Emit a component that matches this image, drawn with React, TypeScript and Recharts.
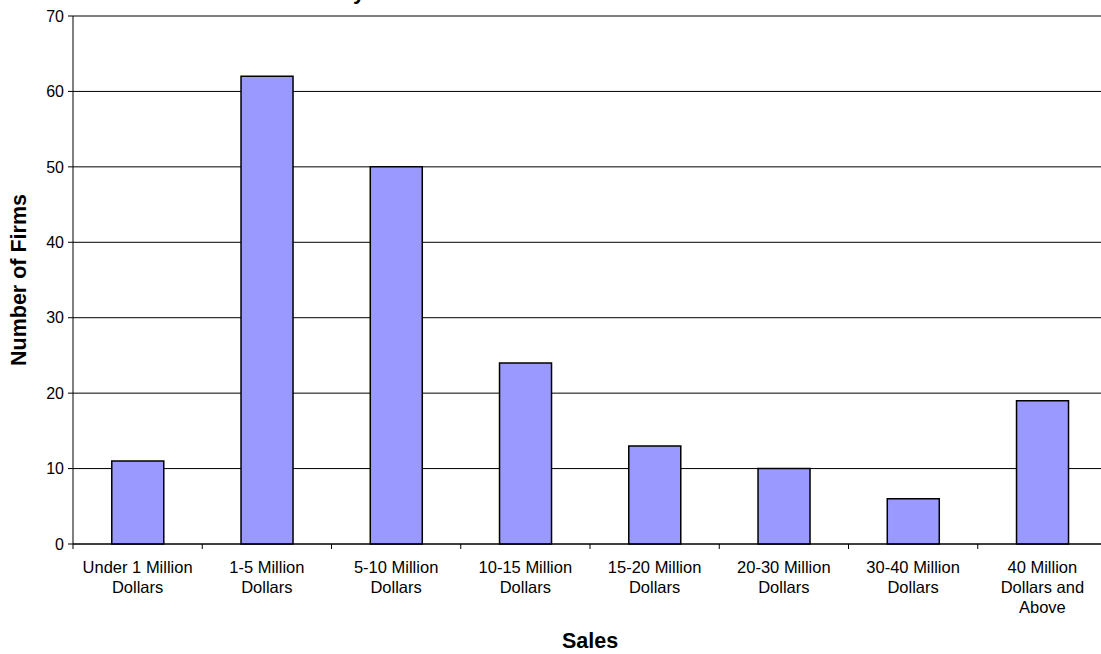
import React from "react";
import { BarChart, Bar, XAxis, YAxis, CartesianGrid, Label } from "recharts";

const CATEGORIES = [
  "Under 1 Million\nDollars",
  "1-5 Million\nDollars",
  "5-10 Million\nDollars",
  "10-15 Million\nDollars",
  "15-20 Million\nDollars",
  "20-30 Million\nDollars",
  "30-40 Million\nDollars",
  "40 Million\nDollars and\nAbove",
];
const FIRMS = [11, 62, 50, 24, 13, 10, 6, 19];
const Y_TICKS = [0, 10, 20, 30, 40, 50, 60, 70];

const TITLE = "Distribution of Firms by Sales";
const X_TITLE = "Sales";
const Y_TITLE = "Number of Firms";

const FONT = "'Liberation Sans', Arial, Helvetica, sans-serif";

const data = CATEGORIES.map((c, i) => ({ category: c, firms: FIRMS[i] }));

function CategoryTick(props: any) {
  const { x, y, payload, index } = props;
  const half = payload.offset ?? 0;
  const lines = String(payload.value).split("\n");
  const last = index === CATEGORIES.length - 1;
  return (
    <g>
      <line x1={x - half} x2={x - half} y1={y} y2={y + 5} stroke="#000" />
      {last && <line x1={x + half} x2={x + half} y1={y} y2={y + 5} stroke="#000" />}
      <text
        x={x}
        y={y + 29}
        textAnchor="middle"
        fontSize={16.5}
        fontFamily={FONT}
        fill="#000"
      >
        {lines.map((l, i) => (
          <tspan key={i} x={x} dy={i === 0 ? 0 : 20}>
            {l}
          </tspan>
        ))}
      </text>
    </g>
  );
}

export default function App() {
  return (
    <div
      style={{
        position: "absolute",
        left: 0,
        top: 0,
        width: 1101,
        height: 654,
        overflow: "hidden",
        background: "#fff",
      }}
    >
      <svg
        width={1101}
        height={20}
        style={{ position: "absolute", left: 0, top: 0, overflow: "visible" }}
      >
        <text
          x={117}
          y={-1}
          fontSize={22}
          fontWeight="bold"
          fontFamily={FONT}
          fill="#000"
        >
          {TITLE}
        </text>
      </svg>
      <BarChart
        width={1115}
        height={654}
        data={data}
        margin={{ top: 16, right: 8, left: 0, bottom: 0 }}
        barCategoryGap="30%"
        style={{ position: "absolute", left: 0, top: 0 }}
      >
        <CartesianGrid vertical={false} stroke="#000" strokeWidth={1} />
        <XAxis
          dataKey="category"
          interval={0}
          height={110}
          tickLine={false}
          tickSize={0}
          tickMargin={0}
          axisLine={{ stroke: "#000" }}
          tick={<CategoryTick />}
        >
          <Label
            content={({ viewBox }: any) => (
              <text
                x={viewBox.x + viewBox.width / 2}
                y={viewBox.y + 104}
                textAnchor="middle"
                fontSize={21.5}
                fontWeight="bold"
                fontFamily={FONT}
                fill="#000"
              >
                {X_TITLE}
              </text>
            )}
          />
        </XAxis>
        <YAxis
          width={73}
          domain={[0, 70]}
          ticks={Y_TICKS}
          interval={0}
          tickSize={5}
          tickMargin={4}
          tickLine={{ stroke: "#000" }}
          axisLine={{ stroke: "#000" }}
          tick={{ fill: "#000", fontSize: 16, fontFamily: FONT }}
        >
          <Label
            content={({ viewBox }: any) => (
              <text
                x={26}
                y={viewBox.y + viewBox.height / 2}
                transform={`rotate(-90, 26, ${viewBox.y + viewBox.height / 2})`}
                textAnchor="middle"
                fontSize={21.5}
                fontWeight="bold"
                fontFamily={FONT}
                fill="#000"
              >
                {Y_TITLE}
              </text>
            )}
          />
        </YAxis>
        <Bar
          dataKey="firms"
          fill="#9999FF"
          stroke="#000"
          strokeWidth={1.5}
          isAnimationActive={false}
        />
      </BarChart>
    </div>
  );
}
